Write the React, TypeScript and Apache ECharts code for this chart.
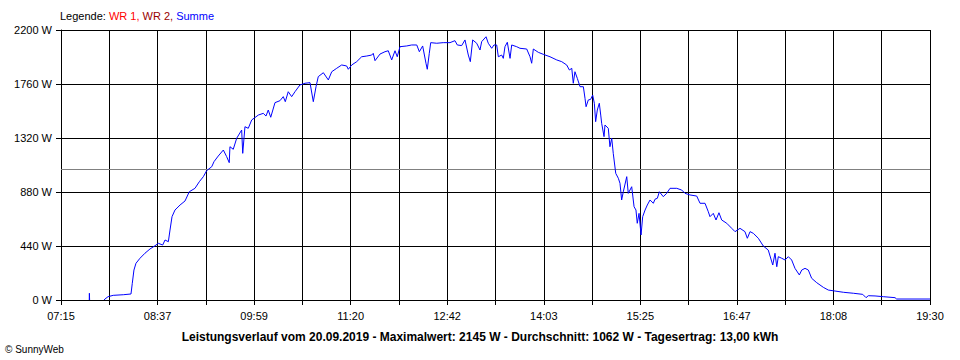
import React, { useEffect, useRef } from "react";
import * as echarts from "echarts";

// Time axis (minutes since midnight)
const START_MIN = 435; // 07:15
const END_MIN = 1170; // 19:30
const X_TICK_LABELS = ["07:15", "08:37", "09:59", "11:20", "12:42", "14:03", "15:25", "16:47", "18:08", "19:30"];
const Y_TICKS = [0, 440, 880, 1320, 1760, 2200];
const AVERAGE_W = 1062;

// Samples of "Summe" (time in minutes since midnight, power in W; null = no data)
const TIMES = [
  458.9, 459.0, 459.2, 465.0, 471.4, 472.2, 474.8, 479.2, 487.7, 494.2,
  495.3, 496.7, 498.4, 501.8, 506.0, 510.3, 514.5, 517.3, 521.0, 523.0,
  525.8, 527.2, 528.9, 531.4, 535.7, 539.9, 543.5, 548.3, 552.0, 555.4,
  558.2, 562.5, 564.4, 568.0, 572.3, 575.1, 577.3, 577.9, 580.7, 583.6,
  587.8, 588.7, 590.6, 593.4, 596.3, 601.9, 606.1, 608.4, 610.3, 612.4,
  616.0, 620.2, 623.0, 624.7, 627.2, 630.1, 632.9, 637.1, 641.4, 645.6,
  648.4, 650.7, 652.6, 656.9, 661.1, 664.0, 668.2, 672.4, 676.6, 678.0,
  680.9, 685.1, 689.3, 693.6, 697.8, 699.1, 700.6, 704.8, 709.0, 711.8,
  714.7, 717.5, 719.4, 721.7, 727.4, 731.6, 735.9, 738.1, 740.9, 743.7,
  744.8, 746.5, 747.7, 752.8, 758.3, 764.0, 768.2, 770.2, 773.9, 776.7,
  779.5, 781.2, 783.2, 786.6, 789.4, 790.8, 794.5, 796.4, 799.3, 801.2,
  803.5, 804.9, 807.7, 809.1, 810.5, 812.5, 814.8, 816.2, 820.4, 823.2,
  828.9, 831.7, 833.1, 834.5, 838.7, 842.9, 848.6, 854.3, 858.5, 862.7,
  865.0, 867.0, 868.3, 869.7, 871.7, 874.0, 876.8, 878.2, 879.1, 881.0,
  883.0, 884.7, 886.1, 887.2, 888.6, 890.3, 891.5, 892.3, 894.3, 895.1,
  897.9, 899.3, 900.8, 902.1, 904.2, 906.4, 907.8, 909.2, 910.6, 913.5,
  914.8, 917.7, 919.7, 921.3, 922.4, 923.9, 925.6, 927.0, 929.0, 930.9,
  933.2, 936.0, 937.4, 939.4, 941.1, 944.4, 947.3, 950.1, 955.8, 960.0,
  962.8, 967.0, 972.7, 975.5, 979.7, 982.5, 983.9, 986.7, 989.0, 991.5,
  993.8, 998.1, 1002.3, 1005.1, 1009.3, 1013.5, 1015.5, 1017.8, 1020.6, 1024.8,
  1029.0, 1033.2, 1037.0, 1038.9, 1040.4, 1041.7, 1044.6, 1047.4, 1050.2, 1053.0,
  1055.8, 1059.5, 1061.5, 1064.3, 1067.1, 1069.9, 1074.2, 1079.8, 1084.0, 1089.7,
  1096.7, 1105.2, 1113.1, 1115.9, 1117.8, 1123.5, 1130.5, 1140.4, 1141.8, 1170,
];
const WATTS: (number | null)[] = [
  0, 55, 0, null, 0, 8, 27, 38, 43, 49,
  136, 244, 299, 340, 381, 416, 442, 462, 448, 489,
  475, 570, 679, 733, 774, 807, 882, 910, 964, 1005,
  1054, 1086, 1127, 1173, 1222, 1168, 1119, 1249, 1228, 1318,
  1385, 1195, 1412, 1399, 1467, 1507, 1521, 1499, 1548, 1489,
  1608, 1624, 1657, 1616, 1697, 1657, 1697, 1752, 1766, 1771,
  1616, 1738, 1820, 1852, 1793, 1860, 1888, 1915, 1907, 1880,
  1915, 1942, 1982, 1988, 1996, 2010, 1950, 2004, 2023, 2031,
  1956, 2031, 1982, 2064, 2070, 2078, 2078, 2023, 2070, 1929,
  1880, 2010, 2097, 2092, 2097, 2097, 2113, 2078, 2073, 2119,
  1996, 1942, 2119, 2092, 2037, 2105, 2145, 2092, 2051, 2078,
  2078, 1982, 1996, 1969, 2064, 2100, 1969, 2078, 2064, 2051,
  2045, 1982, 1929, 2045, 2018, 2002, 1982, 1956, 1942, 1915,
  1874, 1888, 1766, 1860, 1806, 1738, 1738, 1643, 1575, 1630,
  1635, 1670, 1603, 1453, 1548, 1603, 1507, 1440, 1331, 1426,
  1399, 1249, 1318, 1195, 1032, 992, 951, 815, 882, 1005,
  869, 923, 760, 733, 625, 706, 530, 679, 733, 774,
  815, 788, 821, 829, 882, 842, 869, 910, 910, 896,
  869, 856, 847, 788, 788, 719, 679, 706, 652, 711,
  652, 625, 584, 557, 584, 557, 503, 557, 543, 503,
  440, 407, 285, 381, 271, 353, 340, 326, 353, 326,
  258, 204, 244, 258, 244, 177, 141, 103, 81, 73,
  63, 55, 46, 19, 35, 33, 27, 19, 8, 8,
];

const TITLE_TEXT =
  "Leistungsverlauf vom 20.09.2019 - Maximalwert: 2145 W - Durchschnitt: 1062 W - Tagesertrag: 13,00 kWh";
const COPYRIGHT_TEXT = "© SunnyWeb";

const FONT = "'Liberation Sans', Arial, sans-serif";

export default function App() {
  const ref = useRef<HTMLDivElement>(null);

  useEffect(() => {
    document.body.style.margin = "0";
    if (!ref.current) return;
    const chart = echarts.init(ref.current, null, { renderer: "svg" });
    const steps = (X_TICK_LABELS.length - 1) * 2;
    const stepMin = (END_MIN - START_MIN) / steps;
    const data = TIMES.map((t, i) => [(t - START_MIN) / stepMin, WATTS[i] === null ? "-" : WATTS[i]]);

    chart.setOption({
      animation: false,
      backgroundColor: "#ffffff",
      textStyle: { fontFamily: FONT },
      grid: { left: 61, right: 30, top: 30, bottom: 60, containLabel: false },
      xAxis: {
        type: "value",
        min: 0,
        max: steps,
        interval: 1,
        axisLine: { show: true, lineStyle: { color: "#000", width: 1 } },
        axisTick: { show: true, length: 5, lineStyle: { color: "#000" } },
        axisLabel: {
          color: "#000",
          fontSize: 11,
          fontFamily: FONT,
          margin: 10,
          showMaxLabel: true,
          showMinLabel: true,
          formatter: (v: number) => {
            const idx = Math.round(v);
            return idx % 2 === 0 ? X_TICK_LABELS[idx / 2] ?? "" : "";
          },
        },
        splitLine: { show: true, lineStyle: { color: "#000", width: 1 } },
      },
      yAxis: {
        type: "value",
        min: Y_TICKS[0],
        max: Y_TICKS[Y_TICKS.length - 1],
        interval: Y_TICKS[1] - Y_TICKS[0],
        axisLine: { show: true, lineStyle: { color: "#000", width: 1 } },
        axisTick: { show: true, length: 5, lineStyle: { color: "#000" } },
        axisLabel: {
          color: "#000",
          fontSize: 11,
          fontFamily: FONT,
          margin: 9,
          formatter: (v: number) => `${v} W`,
        },
        splitLine: { show: true, lineStyle: { color: "#000", width: 1 } },
      },
      series: [
        {
          name: "Summe",
          type: "line",
          data,
          connectNulls: false,
          showSymbol: false,
          symbol: "none",
          lineStyle: { color: "#0000ff", width: 1 },
          z: 5,
          markLine: {
            silent: true,
            symbol: "none",
            label: { show: false },
            lineStyle: { color: "#808080", width: 1, type: "solid" },
            data: [{ yAxis: AVERAGE_W }],
            z: 3,
          },
        },
      ],
      graphic: [
        {
          type: "text",
          left: 60,
          top: 10,
          style: {
            text: "{k|Legende: }{a|WR 1, }{b|WR 2, }{c|Summe}",
            fontFamily: FONT,
            fontSize: 11,
            rich: {
              k: { fill: "#000", fontSize: 11, fontFamily: FONT },
              a: { fill: "#ff0000", fontSize: 11, fontFamily: FONT },
              b: { fill: "#990000", fontSize: 11, fontFamily: FONT },
              c: { fill: "#0000ff", fontSize: 11, fontFamily: FONT },
            },
          },
        },
        {
          type: "text",
          x: 480,
          y: 337,
          style: {
            text: TITLE_TEXT,
            fill: "#000",
            fontFamily: FONT,
            fontSize: 12,
            fontWeight: "bold",
            align: "center",
            verticalAlign: "middle",
          },
        },
        {
          type: "text",
          x: 5,
          y: 349,
          style: {
            text: COPYRIGHT_TEXT,
            fill: "#000",
            fontFamily: FONT,
            fontSize: 10,
            align: "left",
            verticalAlign: "middle",
          },
        },
      ],
    });

    return () => chart.dispose();
  }, []);

  return <div ref={ref} style={{ width: 960, height: 360 }} />;
}
